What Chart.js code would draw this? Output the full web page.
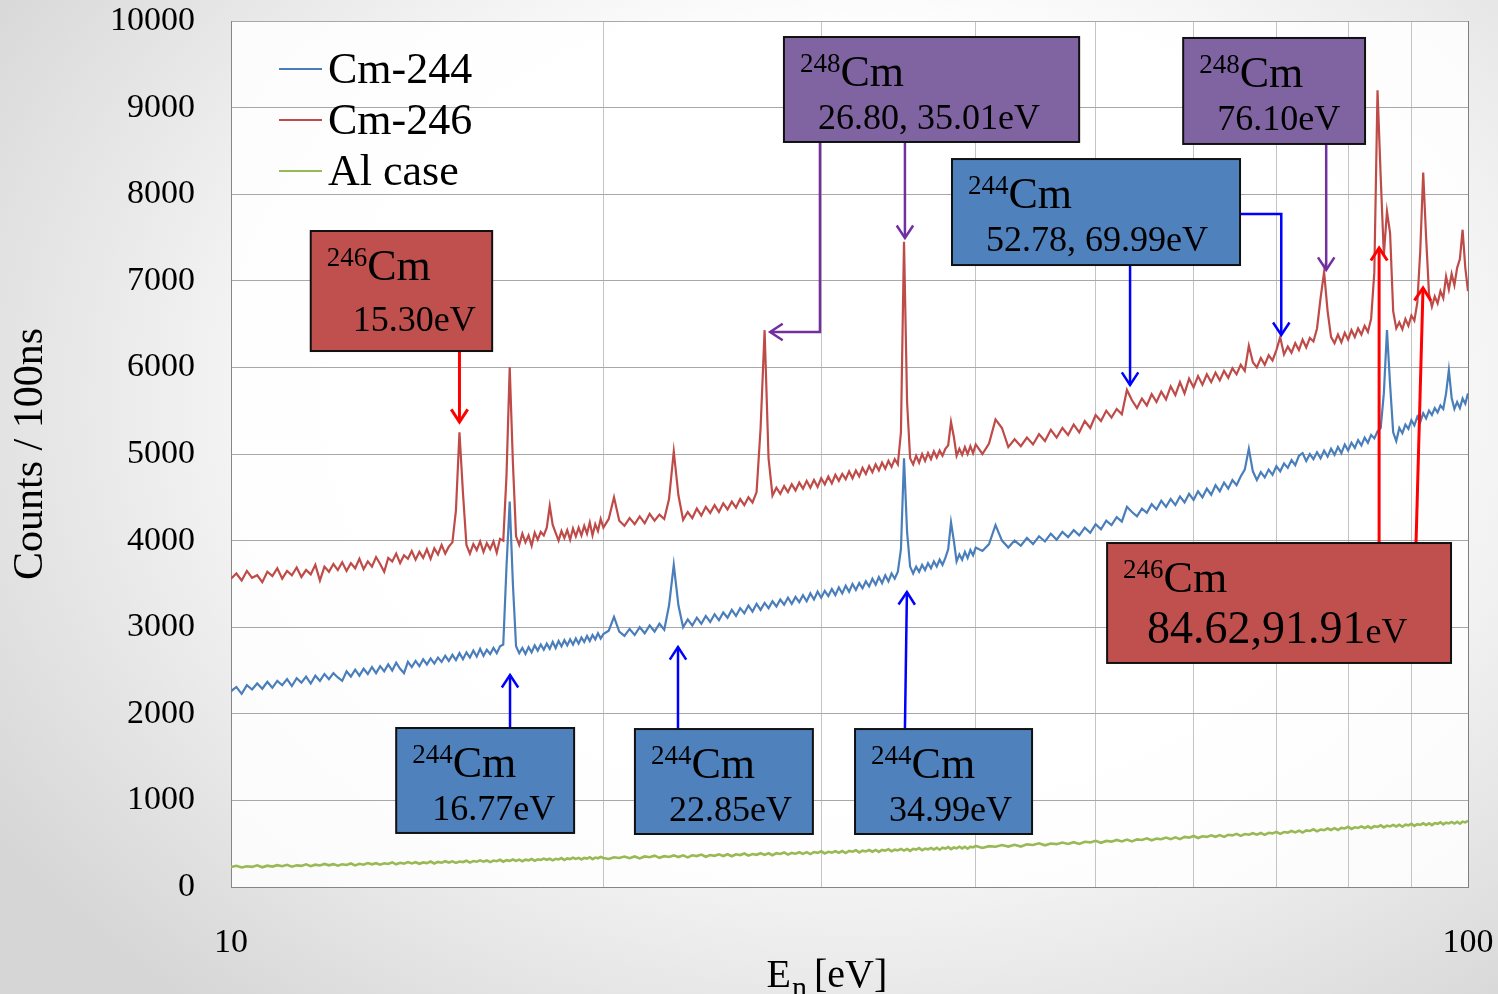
<!DOCTYPE html>
<html>
<head>
<meta charset="utf-8">
<title>Cm-244 / Cm-246 resonance spectrum</title>
<script src="https://cdn.jsdelivr.net/npm/chart.js@4.4.1/dist/chart.umd.min.js"></script>
<style>
  html, body { margin: 0; padding: 0; }
  body {
    width: 1498px; height: 994px; overflow: hidden;
    background: radial-gradient(ellipse 70% 80% at 58% 40%, #ffffff 45%, #d6d6d6 100%);
  }
  #wrap { position: relative; width: 1498px; height: 994px; }
</style>
</head>
<body>
<div id="wrap"><canvas id="myChart"></canvas></div>
<script>
// neutron energy of each channel (eV)
const energies = [
  10,10.1,10.2,10.3,10.4,10.5,10.6,10.7,10.8,10.9,
  11,11.1,11.2,11.3,11.4,11.5,11.6,11.7,11.8,11.9,
  12,12.1,12.2,12.3,12.4,12.5,12.6,12.7,12.8,12.9,
  13,13.1,13.2,13.3,13.4,13.5,13.6,13.7,13.8,13.9,
  14,14.1,14.2,14.3,14.4,14.5,14.6,14.7,14.8,14.9,
  15,15.1,15.2,15.3,15.4,15.5,15.6,15.7,15.8,15.9,
  16,16.1,16.2,16.3,16.4,16.5,16.6,16.7,16.8,16.9,
  17,17.1,17.2,17.3,17.4,17.5,17.6,17.7,17.8,17.9,
  18,18.1,18.2,18.3,18.4,18.5,18.6,18.7,18.8,18.9,
  19,19.1,19.2,19.3,19.4,19.5,19.6,19.7,19.8,19.9,
  20,
  20.2,20.4,20.6,20.8,21,21.2,21.4,21.6,21.8,22,
  22.2,22.4,22.6,22.8,23,23.2,23.4,23.6,23.8,24,
  24.2,24.4,24.6,24.8,25,25.2,25.4,25.6,25.8,26,
  26.2,26.4,26.6,26.8,27,27.2,27.4,27.6,27.8,28,
  28.2,28.4,28.6,28.8,29,29.2,29.4,29.6,29.8,30,
  30.2,30.4,30.6,30.8,31,31.2,31.4,31.6,31.8,32,
  32.2,32.4,32.6,32.8,33,33.2,33.4,33.6,33.8,34,
  34.2,34.4,34.6,34.8,35,35.2,35.4,35.6,35.8,36,
  36.2,36.4,36.6,36.8,37,37.2,37.4,37.6,37.8,38,
  38.2,38.4,38.6,38.8,39,39.2,39.4,39.6,39.8,40,
  40.5,41,41.5,42,42.5,43,43.5,44,44.5,45,
  45.5,46,46.5,47,47.5,48,48.5,49,49.5,50,
  50.5,51,51.5,52,52.5,53,53.5,54,54.5,55,
  55.5,56,56.5,57,57.5,58,58.5,59,59.5,60,
  60.5,61,61.5,62,62.5,63,63.5,64,64.5,65,
  65.5,66,66.5,67,67.5,68,68.5,69,69.5,70,
  70.5,71,71.5,72,72.5,73,73.5,74,74.5,75,
  75.5,76,76.5,77,77.5,78,78.5,79,79.5,80,
  80.5,81,81.5,82,82.5,83,83.5,84,84.5,85,
  85.5,86,86.5,87,87.5,88,88.5,89,89.5,90,
  90.5,91,91.5,92,92.5,93,93.5,94,94.5,95,
  95.5,96,96.5,97,97.5,98,98.5,99,99.5,100
];

const cm244Counts = [
  2260,2310,2230,2330,2280,2350,2290,2370,2300,2380,
  2330,2400,2320,2410,2360,2430,2350,2440,2380,2460,
  2400,2470,2420,2380,2490,2430,2510,2440,2520,2460,
  2540,2470,2550,2490,2570,2500,2590,2520,2470,2600,
  2540,2610,2550,2630,2570,2640,2580,2650,2600,2670,
  2610,2680,2620,2700,2630,2710,2650,2730,2660,2750,
  2670,2740,2690,2760,2700,2780,2800,3700,4450,3500,
  2780,2700,2760,2690,2770,2710,2790,2730,2800,2740,
  2810,2750,2830,2760,2840,2780,2850,2790,2860,2800,
  2870,2810,2880,2830,2900,2840,2910,2860,2930,2870,
  2920,
  2960,3120,2950,2900,2980,2910,3000,2930,3020,2950,
  3040,2970,3250,3720,3250,3000,3090,3020,3110,3040,
  3130,3060,3150,3080,3170,3110,3200,3130,3220,3160,
  3250,3180,3270,3200,3280,3220,3300,3240,3320,3260,
  3340,3270,3350,3290,3370,3300,3390,3320,3410,3340,
  3420,3360,3440,3370,3460,3390,3480,3410,3500,3430,
  3510,3450,3530,3470,3560,3490,3580,3510,3600,3530,
  3620,3560,3640,3900,4950,4100,3700,3620,3700,3640,
  3720,3660,3740,3680,3760,3700,3780,3720,3800,3900,
  4210,4000,3760,3840,3780,3870,3800,3890,3830,3920,
  3880,3960,4180,4000,3920,4000,3940,4030,3960,4050,
  3990,4080,4010,4100,4040,4120,4060,4150,4090,4190,
  4130,4230,4180,4270,4220,4390,4330,4280,4370,4320,
  4420,4360,4460,4390,4480,4410,4510,4440,4540,4470,
  4570,4500,4600,4530,4640,4570,4670,4600,4700,4640,
  4740,4820,5060,4800,4700,4790,4730,4820,4760,4860,
  4800,4890,4840,4930,4870,4980,5010,4920,5000,4940,
  5020,4950,5040,4970,5060,4990,5080,5010,5110,5040,
  5130,5070,5160,5100,5190,5130,5220,5180,5260,5300,
  5700,6430,5800,5250,5150,5300,5240,5340,5290,5390,
  5330,5430,5370,5470,5410,5500,5450,5530,5480,5560,
  5520,5700,5970,5650,5520,5600,5530,5640,5580,5700
];

const cm246Counts = [
  3560,3620,3540,3650,3570,3600,3520,3640,3590,3680,
  3560,3650,3600,3690,3580,3660,3610,3720,3540,3700,
  3640,3730,3660,3750,3650,3740,3680,3790,3670,3760,
  3700,3810,3730,3640,3800,3760,3850,3740,3830,3790,
  3880,3780,3870,3800,3900,3790,3910,3840,3950,3850,
  3930,3980,4350,5250,4550,3950,3850,3960,3890,3990,
  3870,3970,3900,3990,3860,4020,4000,4750,6000,4900,
  4050,3950,4080,3980,4060,3940,4090,4010,4100,4060,
  4150,4400,4180,4090,4000,4110,4030,4120,4010,4140,
  4050,4150,4060,4170,4080,4210,4060,4190,4110,4250,
  4150,
  4250,4500,4230,4170,4260,4190,4280,4200,4310,4230,
  4300,4250,4480,5030,4520,4240,4330,4260,4370,4290,
  4390,4320,4410,4330,4430,4360,4450,4380,4480,4410,
  4500,4440,4560,5300,6430,4950,4520,4610,4540,4630,
  4560,4650,4580,4670,4600,4690,4610,4700,4620,4720,
  4650,4740,4660,4760,4690,4770,4710,4800,4720,4810,
  4740,4840,4770,4860,4790,4880,4810,4900,4830,4920,
  4850,4940,4880,5250,7450,5600,4950,4880,4980,4900,
  5000,4920,5010,4940,5030,4960,5040,4980,5060,5100,
  5370,5200,4980,5060,4990,5080,5000,5090,5010,5110,
  5000,5120,5400,5300,5080,5170,5090,5190,5110,5230,
  5150,5280,5190,5300,5220,5340,5250,5380,5300,5450,
  5380,5500,5420,5520,5460,5740,5620,5530,5640,5560,
  5690,5600,5720,5630,5780,5680,5830,5700,5870,5770,
  5900,5800,5920,5830,5940,5850,5960,5880,5990,5920,
  6030,5960,6250,6060,6000,6110,6030,6140,6080,6200,
  6350,6150,6240,6170,6280,6200,6320,6230,6340,6300,
  6450,6800,7100,6650,6350,6280,6380,6290,6400,6320,
  6430,6350,6450,6380,6480,6410,6560,7100,9200,8200,
  7300,7800,7550,6650,6450,6520,6440,6560,6480,6600,
  6540,6750,7350,8250,7500,6850,6700,6820,6740,6880,
  6800,7050,6900,7080,6950,7150,7250,7590,7150,6880
];

const alCaseCounts = [
  230,245,225,240,232,250,228,246,236,252,
  240,256,235,250,244,262,240,258,248,266,
  250,264,246,262,254,272,250,268,258,276,
  262,275,258,274,266,284,262,280,270,288,
  272,286,268,284,276,294,272,290,280,298,
  282,296,278,294,288,304,282,300,292,308,
  292,306,288,306,298,314,292,310,302,318,
  302,316,298,316,308,324,302,320,312,328,
  314,326,308,326,318,334,312,330,322,338,
  324,336,318,336,328,344,322,340,332,348,
  335,
  324,344,335,352,333,353,330,353,344,362,
  337,356,347,365,346,365,342,366,357,374,
  349,369,360,377,358,378,355,378,369,387,
  362,381,372,390,371,390,367,391,382,399,
  374,394,385,402,383,403,380,403,394,412,
  387,406,397,415,396,415,392,416,407,424,
  399,419,410,427,408,428,405,428,419,437,
  412,431,422,440,421,440,417,441,432,449,
  424,444,435,452,433,453,430,453,444,462,
  437,456,447,465,446,465,442,466,457,474,
  451,472,465,484,467,488,467,492,485,504,
  481,502,495,514,497,518,497,522,515,534,
  511,532,524,543,526,547,526,550,543,562,
  539,559,552,571,553,574,553,578,570,589,
  566,586,579,597,580,600,579,603,596,614,
  590,611,603,621,604,624,602,626,619,637,
  614,635,628,647,630,650,629,654,647,666,
  643,664,657,676,658,679,658,683,676,695,
  671,690,682,700,681,701,679,703,694,712,
  688,708,699,717,699,719,696,720,712,730,
  706,725,717,735,716,736,714,738,729,747,
  723,742,734,752,733,753,731,755,746,764
];

const seriesNames = ['Cm-244', 'Cm-246', 'Al case'];
const seriesColors = ['#4A7EBB', '#BE4B48', '#98B954'];

const xTickValues = [10, 20, 30, 40, 50, 60, 70, 80, 90, 100];
const xTickLabels = ['10', '', '', '', '', '', '', '', '', '100'];

const serif = "'Liberation Serif', 'Times New Roman', serif";

// resonance labels: box corners in (eV, counts), text drawn inside
const callouts = [
  { mass: '246', value: [['15.30eV', 36]], box: [11.60, 16.26, 7575, 6189], fill: '#C0504D', indent: 42 },
  { mass: '248', value: [['26.80, 35.01eV', 36]], box: [27.99, 48.49, 9815, 8603], fill: '#8064A2', indent: 34 },
  { mass: '248', value: [['76.10eV', 36]], box: [58.85, 82.56, 9804, 8580], fill: '#8064A2', indent: 34 },
  { mass: '244', value: [['52.78, 69.99eV', 36]], box: [38.27, 65.42, 8406, 7182], fill: '#4F81BD', indent: 34 },
  { mass: '246', value: [['84.62,91.91', 46], ['eV', 36]], box: [51.08, 96.89, 3972, 2587], fill: '#C0504D', indent: 40 },
  { mass: '244', value: [['16.77eV', 36]], box: [13.60, 18.94, 1836, 624], fill: '#4F81BD', indent: 36 },
  { mass: '244', value: [['22.85eV', 36]], box: [21.21, 29.54, 1824, 612], fill: '#4F81BD', indent: 34 },
  { mass: '244', value: [['34.99eV', 36]], box: [31.95, 44.42, 1824, 612], fill: '#4F81BD', indent: 34 }
];

// pointer lines, last point is the arrow tip
const arrows = [
  { color: '#FF0000', width: 3, pts: [[15.30, 6189], [15.30, 5370]] },
  { color: '#7030A0', width: 2.5, pts: [[29.93, 8603], [29.93, 6409], [27.28, 6409]] },
  { color: '#7030A0', width: 2.5, pts: [[35.06, 8603], [35.06, 7494]] },
  { color: '#7030A0', width: 2.5, pts: [[76.8, 8580], [76.8, 7125]] },
  { color: '#0000FF', width: 2.5, pts: [[53.31, 7182], [53.31, 5797]] },
  { color: '#0000FF', width: 2.5, pts: [[65.42, 7771], [70.64, 7771], [70.64, 6374]] },
  { color: '#FF0000', width: 3, pts: [[84.75, 3972], [84.75, 7379]] },
  { color: '#FF0000', width: 3, pts: [[90.78, 3972], [91.97, 6917]] },
  { color: '#0000FF', width: 2.5, pts: [[16.81, 1836], [16.81, 2448]] },
  { color: '#0000FF', width: 2.5, pts: [[22.98, 1824], [22.98, 2771]] },
  { color: '#0000FF', width: 2.5, pts: [[35.06, 1824], [35.19, 3406]] }
];

function toPoints(counts) {
  return energies.map(function (e, i) { return { x: e, y: counts[i] }; });
}

function drawArrow(ctx, xs, ys, a) {
  var pts = a.pts.map(function (p) { return [xs.getPixelForValue(p[0]), ys.getPixelForValue(p[1])]; });
  ctx.strokeStyle = a.color;
  ctx.lineWidth = a.width;
  ctx.lineJoin = 'miter';
  ctx.lineCap = 'butt';
  ctx.beginPath();
  ctx.moveTo(pts[0][0], pts[0][1]);
  for (var i = 1; i < pts.length; i++) ctx.lineTo(pts[i][0], pts[i][1]);
  ctx.stroke();

  var tip = pts[pts.length - 1], prev = pts[pts.length - 2];
  var ang = Math.atan2(tip[1] - prev[1], tip[0] - prev[0]);
  var len = 15, spread = 0.58;
  ctx.beginPath();
  ctx.moveTo(tip[0] - len * Math.cos(ang - spread), tip[1] - len * Math.sin(ang - spread));
  ctx.lineTo(tip[0], tip[1]);
  ctx.lineTo(tip[0] - len * Math.cos(ang + spread), tip[1] - len * Math.sin(ang + spread));
  ctx.stroke();
}

function drawCallout(ctx, xs, ys, c) {
  var l = xs.getPixelForValue(c.box[0]), r = xs.getPixelForValue(c.box[1]);
  var t = ys.getPixelForValue(c.box[2]), b = ys.getPixelForValue(c.box[3]);
  ctx.fillStyle = c.fill;
  ctx.fillRect(l, t, r - l, b - t);
  ctx.strokeStyle = '#111';
  ctx.lineWidth = 2;
  ctx.strokeRect(l, t, r - l, b - t);

  ctx.fillStyle = '#000';
  ctx.textAlign = 'left';
  ctx.textBaseline = 'alphabetic';
  ctx.font = '27px ' + serif;
  ctx.fillText(c.mass, l + 16, t + 35);
  var x = l + 16 + ctx.measureText(c.mass).width;
  ctx.font = '44px ' + serif;
  ctx.fillText('Cm', x, t + 49);

  var y2 = t + (b - t > 112 ? 100 : 92);
  x = l + c.indent;
  c.value.forEach(function (part) {
    ctx.font = part[1] + 'px ' + serif;
    ctx.fillText(part[0], x, y2);
    x += ctx.measureText(part[0]).width;
  });
}

function drawLegend(chart) {
  var ctx = chart.ctx, area = chart.chartArea;
  ctx.textAlign = 'left';
  ctx.textBaseline = 'alphabetic';
  chart.data.datasets.forEach(function (ds, i) {
    var y = area.top + 48 + i * 51;
    ctx.strokeStyle = ds.borderColor;
    ctx.lineWidth = 2;
    ctx.beginPath();
    ctx.moveTo(area.left + 48, y);
    ctx.lineTo(area.left + 91, y);
    ctx.stroke();
    ctx.fillStyle = '#000';
    ctx.font = '44px ' + serif;
    ctx.fillText(ds.label, area.left + 97, y + 14);
  });
}

function drawXTitle(chart) {
  var ctx = chart.ctx, area = chart.chartArea;
  var x = (area.left + area.right) / 2 - 83, y = chart.height - 7;
  ctx.fillStyle = '#000';
  ctx.textAlign = 'left';
  ctx.textBaseline = 'alphabetic';
  ctx.font = '40px ' + serif;
  ctx.fillText('E', x, y);
  x += ctx.measureText('E').width + 1;
  ctx.font = '30px ' + serif;
  ctx.fillText('n', x, y + 10);
  x += ctx.measureText('n').width + 7;
  ctx.font = '40px ' + serif;
  ctx.fillText('[eV]', x, y);
}

const annotatePlugin = {
  id: 'annotate',
  beforeDraw: function (chart) {
    var a = chart.chartArea, ctx = chart.ctx;
    ctx.save();
    ctx.fillStyle = 'rgba(255,255,255,0.85)';
    ctx.fillRect(a.left, a.top, a.right - a.left, a.bottom - a.top);
    ctx.restore();
  },
  afterDatasetsDraw: function (chart) {
    var ctx = chart.ctx, xs = chart.scales.x, ys = chart.scales.y;
    ctx.save();
    arrows.forEach(function (a) { drawArrow(ctx, xs, ys, a); });
    callouts.forEach(function (c) { drawCallout(ctx, xs, ys, c); });
    drawLegend(chart);
    drawXTitle(chart);
    ctx.restore();
  }
};

drawChart();

function drawChart() {
  var myChart = document.getElementById('myChart').getContext('2d');
  var counts = [cm244Counts, cm246Counts, alCaseCounts];

  new Chart(myChart, {
    type: 'line',
    data: {
      datasets: counts.map(function (c, i) {
        return {
          label: seriesNames[i],
          data: toPoints(c),
          borderColor: seriesColors[i],
          backgroundColor: seriesColors[i],
          borderWidth: i === 2 ? 2.6 : 2.2,
          pointRadius: 0,
          tension: 0,
          fill: false
        };
      })
    },
    options: {
      responsive: true,
      maintainAspectRatio: false,
      animation: false,
      layout: { padding: { top: 21, right: 30, left: 0, bottom: 0 } },
      plugins: {
        legend: { display: false },
        tooltip: { enabled: false }
      },
      scales: {
        x: {
          type: 'logarithmic',
          min: 10,
          max: 100,
          afterBuildTicks: function (axis) {
            axis.ticks = xTickValues.map(function (v) { return { value: v }; });
          },
          afterFit: function (scale) {
            scale.height = 107;
            scale.paddingLeft = 0;
            scale.paddingRight = 0;
          },
          ticks: {
            autoSkip: false,
            maxRotation: 0,
            padding: 36,
            color: '#000',
            font: { family: serif, size: 34 },
            callback: function (value, index) { return xTickLabels[index]; }
          },
          grid: {
            drawTicks: false,
            color: function (ctx) { return ctx.tick && ctx.tick.value === 100 ? '#7f7f7f' : '#c4c4c4'; }
          },
          border: { color: '#868686' }
        },
        y: {
          min: 0,
          max: 10000,
          afterFit: function (scale) {
            scale.width = 231;
            scale.paddingTop = 0;
            scale.paddingBottom = 0;
          },
          ticks: {
            stepSize: 1000,
            padding: 36,
            color: '#000',
            font: { family: serif, size: 34 },
            callback: function (value) { return String(value); }
          },
          grid: { drawTicks: false, color: '#a8a8a8' },
          border: { color: '#868686' },
          title: {
            display: true,
            text: 'Counts / 100ns',
            color: '#000',
            font: { family: serif, size: 42 },
            padding: { top: 6, bottom: 0 }
          }
        }
      }
    },
    plugins: [annotatePlugin]
  });
}
</script>
</body>
</html>
